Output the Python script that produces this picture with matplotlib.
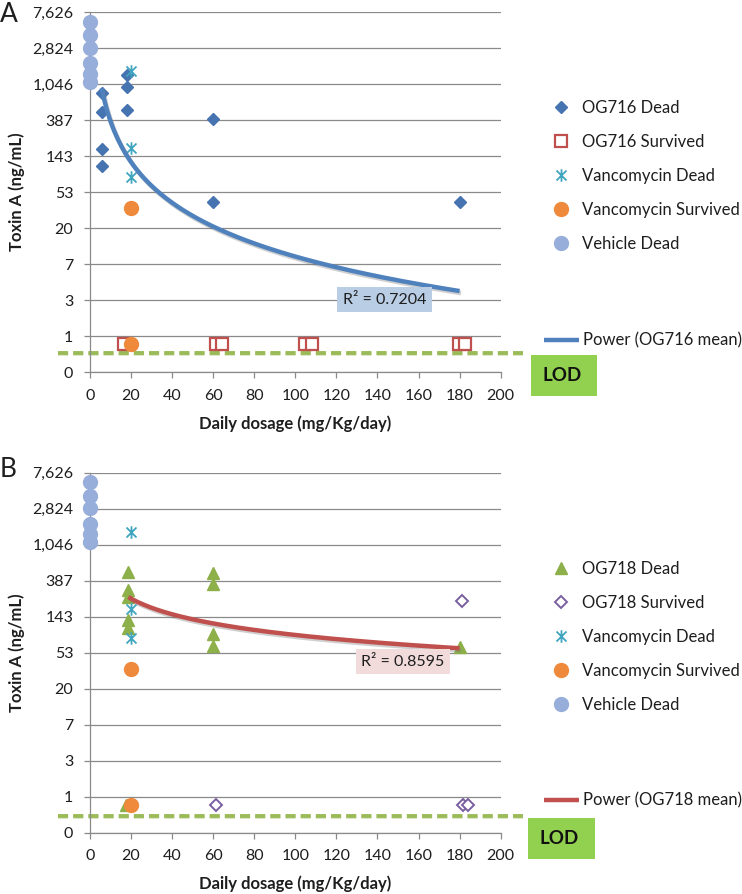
import numpy as np
import matplotlib
matplotlib.use("Agg")
import matplotlib.pyplot as plt
from matplotlib.path import Path
from matplotlib.patches import Rectangle
from matplotlib.ticker import FixedLocator, FixedFormatter, NullLocator
import matplotlib.patheffects as pe

plt.rcParams['font.family'] = ['Lato', 'DejaVu Sans']

# ---------------- data ----------------
BASE = 2.7
X_TICKS = [0, 20, 40, 60, 80, 100, 120, 140, 160, 180, 200]
Y_TICK_EXP = [-1, 0, 1, 2, 3, 4, 5, 6, 7, 8, 9]
Y_TICK_LABELS = ['0', '1', '3', '7', '20', '53', '143', '387', '1,046', '2,824', '7,626']

vehicle_dead_x = [0, 0, 0, 0, 0, 0]
vehicle_dead_y = [5826, 4043, 2852, 1842, 1382, 1109]

vanco_dead_x = [20, 20, 20]
vanco_dead_y = [1496, 177, 80]
vanco_surv_x = [20, 20]
vanco_surv_y = [34, 0.8]

# Panel A
og716_dead_x = [5.7, 5.7, 5.7, 5.7, 18.2, 18.2, 18.2, 60, 60, 180]
og716_dead_y = [808, 486, 173, 108.5, 1341, 974, 511, 395, 40.2, 40.2]
og716_surv_x = [16.6, 61.6, 64.4, 104.7, 108.3, 179.7, 182.6]
og716_surv_y = [0.8, 0.8, 0.8, 0.8, 0.8, 0.8, 0.8]
power716_coef, power716_exp = 15560.0, -1.62
power716_xrange = [5.7, 180]
r2_716 = "R\u00b2 = 0.7204"

# Panel B
og718_dead_x = [18.5, 18.5, 18.5, 18.5, 18.5, 17.5, 60, 60, 60, 60, 180]
og718_dead_y = [491, 300, 248, 130, 103.4, 0.8, 481, 351, 88, 63.5, 62.2]
og718_surv_x = [61.4, 181.3, 181.5, 184]
og718_surv_y = [0.8, 220, 0.8, 0.8]
power718_coef, power718_exp = 1522.0, -0.623
power718_xrange = [18.7, 180]
r2_718 = "R\u00b2 = 0.8595"

lod_level_A = 0.63
lod_level_B = 0.59

# ---------------- style ----------------
W, H = 742, 894
fig = plt.figure(figsize=(W / 100, H / 100), dpi=100)

GRID = '#8a8a8a'
TXT = '#1e1e1e'
C_DIAMOND = '#4674b0'
C_SQUARE = '#c0504d'
C_AST = '#41a5bf'
C_ORANGE = '#ef8a3c'
C_VEH = '#98aeda'
C_TRI = '#8db04a'
C_PURPLE = '#7a5fa0'
C_LODLINE = '#9bbb59'
C_LODBOX = '#92d050'

ast_path = Path([(0, -1), (0, 1), (-0.8, -0.8), (0.8, 0.8), (-0.8, 0.8), (0.8, -0.8)],
                [Path.MOVETO, Path.LINETO, Path.MOVETO, Path.LINETO, Path.MOVETO, Path.LINETO])


def fx(px):
    return px / W


def fy(py):
    return 1 - py / H


def setup_axes(top_px, bottom_px):
    ax = fig.add_axes([fx(90), fy(bottom_px), fx(500.7) - fx(90), fy(top_px) - fy(bottom_px)])
    ax.set_yscale('log', base=BASE)
    ax.set_xlim(0, 200)
    ax.set_ylim(BASE ** -1, BASE ** 9)
    ax.xaxis.set_major_locator(FixedLocator(X_TICKS))
    ax.set_xticklabels([str(v) for v in X_TICKS])
    ax.yaxis.set_major_locator(FixedLocator([BASE ** e for e in Y_TICK_EXP]))
    ax.yaxis.set_major_formatter(FixedFormatter(Y_TICK_LABELS))
    ax.yaxis.set_minor_locator(NullLocator())
    ax.xaxis.set_minor_locator(NullLocator())
    ax.yaxis.grid(True, color=GRID, lw=0.9)
    ax.set_axisbelow(True)
    for s in ['top', 'right']:
        ax.spines[s].set_visible(False)
    for s in ['left', 'bottom']:
        ax.spines[s].set_color(GRID)
        ax.spines[s].set_linewidth(0.9)
    ax.tick_params(axis='both', direction='out', length=4, width=0.9, color=GRID,
                   labelsize=11.5, labelcolor=TXT, pad=8)
    return ax


def draw_panel(ax, dead_x, dead_y, dead_kw, dead_label, surv_x, surv_y, surv_kw, surv_label,
               coef, expo, xr, line_color, r2_text, r2_xy, r2_color, lod_level,
               leg_top_px, power_leg_px, lod_box_px, letter, letter_px, ylabel_px, xlabel_px):
    h_dead, = ax.plot(dead_x, dead_y, ls='none', clip_on=False, zorder=3, **dead_kw)
    h_surv, = ax.plot(surv_x, surv_y, ls='none', clip_on=False, zorder=3, **surv_kw)
    h_ad, = ax.plot(vanco_dead_x, vanco_dead_y, ls='none', marker=ast_path, ms=9,
                    mec=C_AST, mfc='none', mew=1.3, clip_on=False, zorder=4)
    h_os, = ax.plot(vanco_surv_x, vanco_surv_y, ls='none', marker='o', ms=10,
                    mfc=C_ORANGE, mec=C_ORANGE, clip_on=False, zorder=4)
    h_vd, = ax.plot(vehicle_dead_x, vehicle_dead_y, ls='none', marker='o', ms=10,
                    mfc=C_VEH, mec=C_VEH, clip_on=False, zorder=4)
    xs = np.linspace(xr[0], xr[1], 200)
    h_pw, = ax.plot(xs, coef * xs ** expo, color=line_color, lw=3.2, zorder=5,
                    solid_capstyle='butt',
                    path_effects=[pe.SimpleLineShadow(offset=(1, -1.5), shadow_color='#777777', alpha=0.35),
                                  pe.Normal()])
    # LOD dashed line
    ax.plot([-15.6, 211], [lod_level, lod_level], color=C_LODLINE, lw=2.8,
            dashes=(2.6, 1.3), clip_on=False, zorder=2,
            path_effects=[pe.SimpleLineShadow(offset=(0, -1.2), shadow_color='#9bbb59', alpha=0.35),
                          pe.Normal()])
    # R^2 label
    ax.text(r2_xy[0], r2_xy[1], r2_text, fontsize=11.5, color=TXT, ha='center', va='center',
            zorder=6, bbox=dict(boxstyle='square,pad=0.34', fc=r2_color, ec='none'))

    leg1 = ax.legend([h_dead, h_surv, h_ad, h_os, h_vd],
                     [dead_label, surv_label, 'Vancomycin Dead', 'Vancomycin Survived', 'Vehicle Dead'],
                     loc='upper left', bbox_to_anchor=(fx(553), fy(leg_top_px)),
                     bbox_transform=fig.transFigure, frameon=False, fontsize=12,
                     handlelength=0.92, handletextpad=0.85, labelspacing=1.08,
                     borderpad=0, borderaxespad=0, numpoints=1)
    for t in leg1.get_texts():
        t.set_color(TXT)
    ax.add_artist(leg1)
    leg2 = ax.legend([h_pw], ['Power (%s mean)' % dead_label.split()[0]],
                     loc='center left', bbox_to_anchor=(fx(544), fy(power_leg_px)),
                     bbox_transform=fig.transFigure, frameon=False, fontsize=12,
                     handlelength=2.1, handletextpad=0.25, borderpad=0, borderaxespad=0)
    for t in leg2.get_texts():
        t.set_color(TXT)
    for l in leg2.get_lines():
        l.set_path_effects([])
        l.set_linewidth(3.2)

    x0, y0, x1, y1 = lod_box_px
    fig.patches.append(Rectangle((fx(x0), fy(y1)), fx(x1) - fx(x0), fy(y0) - fy(y1),
                                 transform=fig.transFigure, fc=C_LODBOX, ec='none'))
    fig.text(fx((x0 + x1) / 2 - 2), fy((y0 + y1) / 2), 'LOD', fontsize=13.5, fontweight='bold',
             color='#111111', ha='center', va='center')

    fig.text(fx(letter_px[0]), fy(letter_px[1]), letter, fontsize=19, color=TXT,
             ha='left', va='center')
    fig.text(fx(ylabel_px[0]), fy(ylabel_px[1]), 'Toxin A (ng/mL)', rotation=90, fontsize=12,
             fontweight='bold', color=TXT, ha='center', va='center')
    fig.text(fx(xlabel_px[0]), fy(xlabel_px[1]), 'Daily dosage (mg/Kg/day)', fontsize=12,
             fontweight='bold', color=TXT, ha='center', va='center')


axA = setup_axes(12, 372)
draw_panel(axA, og716_dead_x, og716_dead_y,
           dict(marker='D', ms=6.2, mfc=C_DIAMOND, mec=C_DIAMOND), 'OG716 Dead',
           og716_surv_x, og716_surv_y,
           dict(marker='s', ms=8, mfc='white', mec=C_SQUARE, mew=1.6), 'OG716 Survived',
           power716_coef, power716_exp, power716_xrange, '#4f81bd',
           r2_716, (143.4, 2.73), '#b9cde5', lod_level_A,
           100, 340.7, (531, 355, 597, 396), 'A', (0, 14), (16.7, 192), (295.5, 424))

axB = setup_axes(472.5, 832.7)
draw_panel(axB, og718_dead_x, og718_dead_y,
           dict(marker='^', ms=8.8, mfc=C_TRI, mec=C_TRI), 'OG718 Dead',
           og718_surv_x, og718_surv_y,
           dict(marker='D', ms=6.3, mfc='white', mec=C_PURPLE, mew=1.4), 'OG718 Survived',
           power718_coef, power718_exp, power718_xrange, '#c0504d',
           r2_718, (152.4, 41.1), '#f2dcdb', lod_level_B,
           561, 800.7, (528, 818, 595, 859), 'B', (0, 469), (16.7, 652.5), (295.5, 884))

fig.savefig('out.png', dpi=100)
